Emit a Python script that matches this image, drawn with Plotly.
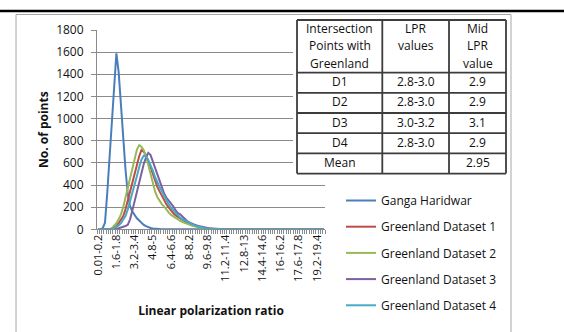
import plotly.graph_objects as go

W, H = 564, 332

def fmt(v):
    return ('%.1f' % v).rstrip('0').rstrip('.')

categories = ["0.01-0.2"] + [f"{fmt(i*0.2)}-{fmt((i+1)*0.2)}" for i in range(1, 100)]

tick_labels = ["0.01-0.2", "1.6-1.8", "3.2-3.4", "4.8-5", "6.4-6.6", "8-8.2", "9.6-9.8",
               "11.2-11.4", "12.8-13", "14.4-14.6", "16-16.2", "17.6-17.8", "19.2-19.4"]

ganga = [0, 0, 10, 60, 330, 650, 950, 1270, 1590, 1420, 1120, 840, 540, 320, 210, 160, 125, 100, 80, 55,
         40, 28, 18, 12, 8, 5, 3, 2] + [0] * 72

greenland1 = [0, 0, 0, 0, 0, 1, 5, 15, 30, 55, 85, 120, 180, 260, 350, 430, 500, 570, 660, 715,
              700, 670, 620, 560, 500, 430, 380, 340, 300, 260, 225, 195, 165, 145, 125, 110, 95, 80, 68, 58,
              50, 42, 35, 28, 22, 17, 13, 10, 7, 5, 3, 2, 1] + [0] * 47

greenland2 = [0, 0, 0, 0, 0, 2, 10, 30, 55, 90, 135, 200, 290, 380, 460, 540, 620, 720, 760, 745,
              715, 660, 580, 500, 420, 340, 290, 255, 225, 205, 175, 150, 130, 115, 100, 85, 75, 65, 55, 50,
              42, 35, 28, 22, 18, 14, 10, 7, 5, 3, 2] + [0] * 49

greenland3 = [0, 0, 0, 0, 0, 0, 0, 2, 5, 10, 15, 20, 30, 40, 90, 170, 260, 350, 440, 520,
              590, 650, 690, 670, 610, 540, 480, 420, 370, 320, 285, 260, 230, 205, 170, 145, 135, 115, 90, 75,
              62, 52, 44, 36, 30, 24, 19, 15, 11, 8, 6, 4, 3, 2, 1] + [0] * 45

greenland4 = [0, 0, 0, 0, 0, 0, 3, 10, 20, 35, 55, 85, 120, 180, 250, 320, 400, 480, 560, 630,
              665, 660, 625, 580, 530, 470, 420, 380, 340, 300, 260, 225, 195, 170, 145, 125, 105, 90, 78, 66,
              55, 46, 38, 30, 24, 18, 14, 10, 8, 6, 4, 3, 2, 1] + [0] * 46

series_names = ["Ganga Haridwar", "Greenland Dataset 1", "Greenland Dataset 2",
                "Greenland Dataset 3", "Greenland Dataset 4"]
series_values = [ganga, greenland1, greenland2, greenland3, greenland4]
series_colors = ["#4A7EBB", "#BE4B48", "#98B954", "#7D60A0", "#46AAC5"]

table_header = [["Intersection", "Points with", "Greenland"], ["LPR", "values"], ["Mid", "LPR", "value"]]
table_points = ["D1", "D2", "D3", "D4", "Mean"]
table_lpr = ["2.8-3.0", "2.8-3.0", "3.0-3.2", "2.8-3.0", ""]
table_mid = ["2.9", "2.9", "3.1", "2.9", "2.95"]

FONT = "Open Sans"
TXT = "#111"

fig = go.Figure()
for name, vals, col in zip(series_names, series_values, series_colors):
    fig.add_trace(go.Scatter(x=categories, y=vals, mode="lines", name=name,
                             legendgroup=name,
                             line=dict(color=col, width=2), hoverinfo="skip"))

# ---- table (drawn with shapes + annotations, in pixel layout) ----
col_edges = [297, 382.3, 449, 506]
row_edges = [20, 72.7, 92.9, 113, 133.2, 153.4, 173.6]
header_line_y = [29, 46, 63]

def px(x):
    return x / W

def py(y):
    return 1 - y / H

shapes = [
    dict(type="rect", xref="paper", yref="paper", x0=16 / W, x1=511 / W,
         y0=-0.2, y1=py(14.5), line=dict(color="#a6a6a6", width=1), layer="below"),
    dict(type="line", xref="paper", yref="paper", x0=0, x1=1,
         y0=py(11), y1=py(11), line=dict(color="black", width=2.5)),
    dict(type="rect", xref="paper", yref="paper", x0=px(col_edges[0] - 4), x1=px(col_edges[-1] + 2),
         y0=py(row_edges[-1] + 2), y1=py(row_edges[0] - 2),
         fillcolor="white", line=dict(width=0), layer="above"),
]
tline = dict(color="#3c3c3c", width=1.8)
for xe in col_edges:
    shapes.append(dict(type="line", xref="paper", yref="paper", x0=px(xe), x1=px(xe),
                       y0=py(row_edges[-1]), y1=py(row_edges[0]), line=tline, layer="above"))
for ye in row_edges:
    shapes.append(dict(type="line", xref="paper", yref="paper", x0=px(col_edges[0]), x1=px(col_edges[-1]),
                       y0=py(ye), y1=py(ye), line=tline, layer="above"))

annotations = []
for c, lines in enumerate(table_header):
    cx = (col_edges[c] + col_edges[c + 1]) / 2
    for k, t in enumerate(lines):
        annotations.append(dict(xref="paper", yref="paper", x=px(cx), y=py(header_line_y[k]),
                                text=t, showarrow=False, xanchor="center", yanchor="middle",
                                font=dict(family=FONT, size=12, color=TXT)))
for c, colvals in enumerate([table_points, table_lpr, table_mid]):
    cx = (col_edges[c] + col_edges[c + 1]) / 2
    for r, t in enumerate(colvals):
        if not t:
            continue
        cy = (row_edges[r + 1] + row_edges[r + 2]) / 2 - 1
        annotations.append(dict(xref="paper", yref="paper", x=px(cx), y=py(cy),
                                text=t, showarrow=False, xanchor="center", yanchor="middle",
                                font=dict(family=FONT, size=12, color=TXT)))

tick_text = [c if c in tick_labels else "" for c in categories]

grid = "#8a8a8a"
fig.update_layout(
    width=W, height=H,
    margin=dict(l=0, r=0, t=0, b=0),
    paper_bgcolor="white", plot_bgcolor="white",
    font=dict(family=FONT, size=12, color=TXT),
    showlegend=True,
    legend=dict(x=341 / W, y=py(186), xanchor="left", yanchor="top",
                tracegroupgap=7.2, font=dict(family=FONT, size=12, color=TXT),
                bgcolor="rgba(0,0,0,0)"),
    xaxis=dict(type="category", domain=[97 / W, 325 / W], range=[-0.5, 99.5],
               categoryorder="array", categoryarray=categories,
               tickmode="array", tickvals=categories, ticktext=tick_text,
               tickson="boundaries", ticks="outside", ticklen=4, tickcolor=grid,
               tickangle=-90, showgrid=False, showline=True,
               linecolor=grid, tickfont=dict(size=11, color=TXT),
               title=dict(text="<b>Linear polarization ratio</b>", standoff=25,
                          font=dict(size=12, color=TXT)),
               automargin=False, fixedrange=True),
    yaxis=dict(domain=[py(229.3), py(30)], range=[0, 1800], dtick=200,
               showgrid=True, gridcolor=grid, gridwidth=1, showline=True, linecolor=grid,
               ticks="outside", ticklen=5, tickcolor=grid, zeroline=False,
               ticklabelstandoff=5,
               tickfont=dict(size=12, color=TXT),
               title=dict(text="<b>No. of points</b>", standoff=4,
                          font=dict(size=12, color=TXT)),
               automargin=False, fixedrange=True),
    shapes=shapes,
    annotations=annotations,
)

fig.write_html("out.html")
